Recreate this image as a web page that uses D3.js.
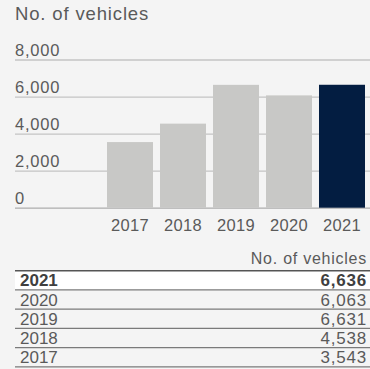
<!DOCTYPE html>
<html>
<head>
<meta charset="utf-8">
<script src="https://cdn.jsdelivr.net/npm/d3@7"></script>
<style>
  html, body { margin: 0; padding: 0; background: #f4f4f4; }
  svg { display: block; font-family: "Liberation Sans", Arial, sans-serif; }
  .grid .domain { display: none; }
  .grid line { stroke: #c4c4c4; stroke-width: 1.3px; }
  .grid text { fill: #5a5a5a; font-size: 16.5px; letter-spacing: 0.8px; }
  .years .domain { display: none; }
  .years text { fill: #5a5a5a; font-size: 16.5px; letter-spacing: 0.3px; }
</style>
</head>
<body>
<div id="chart"></div>
<script>
const years = ["2017", "2018", "2019", "2020", "2021"]
const vehicles = [3543, 4538, 6631, 6063, 6636]
const yTicks = [0, 2000, 4000, 6000, 8000]
const title = "No. of vehicles"
const highlight = "2021"

const width = 370, height = 369
const fmt = d3.format(",")

const svg = d3.select("#chart")
    .append("svg")
        .attr("width", width)
        .attr("height", height)

svg.append("rect")
    .attr("width", width)
    .attr("height", height)
    .attr("fill", "#f4f4f4")

svg.append("text")
    .attr("x", 15)
    .attr("y", 19.8)
    .attr("fill", "#5a5a5a")
    .style("font-size", "18.5px")
    .style("letter-spacing", "0.85px")
    .text(title)

var x = d3.scaleBand()
    .domain(years)
    .range([103.5, 368.5])
    .paddingInner(0.132)
    .paddingOuter(0.066)

var y = d3.scaleLinear()
    .domain([0, 8000])
    .range([207.7, 59.5])

// gridlines with labels sitting on top of them
const grid = svg.append("g")
    .attr("class", "grid")
    .attr("transform", "translate(15,0)")
    .call(d3.axisLeft(y).tickValues(yTicks).tickSize(-355).tickFormat(fmt))
grid.selectAll(".tick text")
    .attr("x", 0)
    .attr("dy", "-3.8px")
    .attr("text-anchor", "start")
    .attr("dominant-baseline", "auto")
grid.selectAll(".tick line")
    .filter(d => d === 0)
    .style("stroke", "#adadad")

const data = years.map((d, i) => ({year: d, value: vehicles[i]}))

svg.append("g")
    .selectAll("rect")
    .data(data)
    .enter()
    .append("rect")
        .attr("x", d => x(d.year))
        .attr("y", d => y(d.value))
        .attr("width", x.bandwidth())
        .attr("height", d => y(0) - y(d.value))
        .attr("fill", d => d.year === highlight ? "#031d41" : "#c8c8c6")

const xAxis = svg.append("g")
    .attr("class", "years")
    .attr("transform", "translate(0,208)")
    .call(d3.axisBottom(x).tickSize(0).tickPadding(11))

// table below the chart
const tableTop = 270.7, rowH = 19.25
const rows = data.slice().reverse()

svg.append("text")
    .attr("x", 367)
    .attr("y", 264)
    .attr("text-anchor", "end")
    .attr("fill", "#5a5a5a")
    .style("font-size", "16px")
    .style("letter-spacing", "0.75px")
    .text(title)

svg.append("rect")
    .attr("x", 15)
    .attr("y", tableTop)
    .attr("width", 355)
    .attr("height", rowH)
    .attr("fill", "#ffffff")

const row = svg.append("g")
    .selectAll("g")
    .data(rows)
    .enter()
    .append("g")
        .attr("transform", (d, i) => "translate(0," + (tableTop + i * rowH) + ")")

row.append("line")
    .attr("x1", 15)
    .attr("x2", 370)
    .attr("y1", rowH)
    .attr("y2", rowH)
    .attr("stroke", "#7a7a7a")
    .attr("stroke-width", 1.2)

row.append("text")
    .attr("x", 20)
    .attr("y", 15.8)
    .attr("fill", d => d.year === highlight ? "#3f3f3f" : "#5a5a5a")
    .style("font-weight", d => d.year === highlight ? "bold" : "normal")
    .style("font-size", "17px")
    .text(d => d.year)

row.append("text")
    .attr("x", 367)
    .attr("y", 15.8)
    .attr("text-anchor", "end")
    .attr("fill", d => d.year === highlight ? "#3f3f3f" : "#5a5a5a")
    .style("font-weight", d => d.year === highlight ? "bold" : "normal")
    .style("font-size", "17px")
    .style("letter-spacing", "0.8px")
    .text(d => fmt(d.value))

svg.append("line")
    .attr("x1", 15)
    .attr("x2", 370)
    .attr("y1", tableTop)
    .attr("y2", tableTop)
    .attr("stroke", "#555555")
    .attr("stroke-width", 1.5)
</script>
</body>
</html>
